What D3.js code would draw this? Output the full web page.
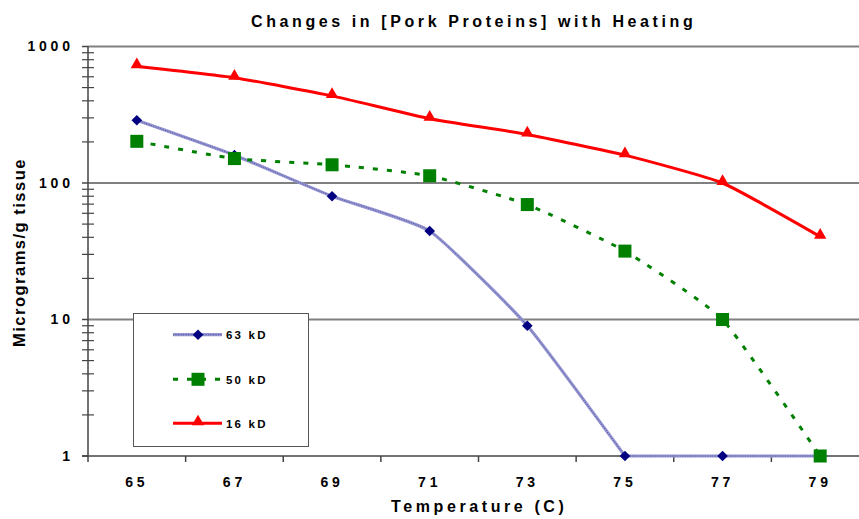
<!DOCTYPE html>
<html>
<head>
<meta charset="utf-8">
<script src="https://cdn.jsdelivr.net/npm/d3@7"></script>
<style>
  html, body { margin: 0; padding: 0; background: #fff; }
  svg { display: block; font-family: "Liberation Sans", Arial, Helvetica, sans-serif; }
</style>
</head>
<body>
<svg id="chart" width="859" height="519"></svg>
<script>
// Temperature categories (C)
const temperatures = ["65", "67", "69", "71", "73", "75", "77", "79"];

// Protein concentration (micrograms / g tissue) per band
const kd63 = [288, 160, 80, 44.5, 9, 1, 1, 1];
const kd50 = [202, 151, 136, 113, 69.5, 31.7, 10, 1];
const kd16 = [717, 591, 435, 296, 227, 160, 100, 40.5];

const seriesNames = ["63 kD", "50 kD", "16 kD"];
const yTickValues = [1, 10, 100, 1000];

(function draw() {
const svg = d3.select("#chart");
const left = 88, right = 869, plotTop = 46.5, bottom = 456;
const tickLS = 3.8;

const x = d3.scaleBand().domain(temperatures).range([left, right]);
const y = d3.scaleLog().domain([1, 1000]).range([bottom, plotTop]);

// Title
svg.append("text")
  .attr("x", 251).attr("y", 27)
  .attr("font-size", 16).attr("font-weight", "bold")
  .attr("letter-spacing", 3.6)
  .text("Changes in [Pork Proteins] with Heating");

// Horizontal gridlines at each decade
svg.append("g").selectAll("line")
  .data(yTickValues.slice(1))
  .join("line")
  .attr("x1", left).attr("x2", right)
  .attr("y1", d => y(d)).attr("y2", d => y(d))
  .attr("stroke", "#808080").attr("stroke-width", 2);

// Y axis: major and minor ticks on a log scale
const minor = [];
for (let dec = 1; dec < 1000; dec *= 10) for (let k = 2; k <= 9; k++) minor.push(dec * k);

const yAxis = svg.append("g");
yAxis.append("line")
  .attr("x1", left).attr("x2", left)
  .attr("y1", plotTop).attr("y2", bottom + 6)
  .attr("stroke", "#444").attr("stroke-width", 1.5);
yAxis.selectAll("line.minor")
  .data(minor).join("line").attr("class", "minor")
  .attr("x1", left - 6).attr("x2", left + 6)
  .attr("y1", d => y(d)).attr("y2", d => y(d))
  .attr("stroke", "#444").attr("stroke-width", 1.2);
yAxis.selectAll("line.major")
  .data(yTickValues).join("line").attr("class", "major")
  .attr("x1", left - 6).attr("x2", left)
  .attr("y1", d => y(d)).attr("y2", d => y(d))
  .attr("stroke", "#444").attr("stroke-width", 1.5);
yAxis.selectAll("text")
  .data(yTickValues).join("text")
  .attr("x", 70 + tickLS).attr("y", d => y(d) + 4.5)
  .attr("text-anchor", "end")
  .attr("font-size", 14).attr("font-weight", "bold")
  .attr("letter-spacing", tickLS)
  .text(d => d);

// X axis baseline and ticks at band edges
const xAxis = svg.append("g");
xAxis.append("line")
  .attr("x1", left - 6).attr("x2", right)
  .attr("y1", bottom).attr("y2", bottom)
  .attr("stroke", "#444").attr("stroke-width", 1.5);
xAxis.selectAll("line.tick")
  .data(temperatures)
  .join("line").attr("class", "tick")
  .attr("x1", d => x(d) + x.step())
  .attr("x2", d => x(d) + x.step())
  .attr("y1", bottom).attr("y2", bottom + 6)
  .attr("stroke", "#444").attr("stroke-width", 1.5);
xAxis.selectAll("text")
  .data(temperatures).join("text")
  .attr("x", d => x(d) + x.bandwidth() / 2)
  .attr("y", 487.3)
  .attr("text-anchor", "middle")
  .attr("font-size", 14).attr("font-weight", "bold")
  .attr("letter-spacing", tickLS)
  .text(d => d);

// Axis titles
svg.append("text")
  .attr("x", 391).attr("y", 511.7)
  .attr("font-size", 16).attr("font-weight", "bold")
  .attr("letter-spacing", 3.6)
  .text("Temperature (C)");
svg.append("text")
  .attr("transform", "translate(25,347) rotate(-90)")
  .attr("font-size", 16.5).attr("font-weight", "bold")
  .attr("letter-spacing", 1.5)
  .text("Micrograms/g tissue");

const px = i => x(temperatures[i]) + x.bandwidth() / 2;

const smooth = d3.line()
  .x(d => px(d.i))
  .y(d => y(d.v))
  .curve(d3.curveCardinal.tension(0.55));
const straight = d3.line()
  .x(d => px(d.i))
  .y(d => y(d.v));
const pts = arr => arr.map((v, i) => ({ v, i }));

const diamond = d3.symbol(d3.symbolDiamond2, 72);
const triangle = d3.symbol(d3.symbolTriangle, 66);

// 63 kD: textured lavender line with navy diamonds; the floor segment stays straight
const p63 = pts(kd63);
const d63 = smooth(p63.slice(0, 6)) + straight(p63.slice(5));
const g63 = svg.append("g");
g63.append("path").attr("d", d63)
  .attr("fill", "none").attr("stroke", "#9494d0").attr("stroke-width", 3.2);
g63.append("path").attr("d", d63)
  .attr("fill", "none").attr("stroke", "#5050a4").attr("stroke-width", 1)
  .attr("stroke-dasharray", "1,1.5");
g63.selectAll("path.m").data(kd63).join("path").attr("class", "m")
  .attr("d", diamond)
  .attr("transform", (d, i) => `translate(${px(i)},${y(d)})`)
  .attr("fill", "#000080");

// 50 kD: green dashed line with squares
const g50 = svg.append("g");
g50.append("path").attr("d", smooth(pts(kd50)))
  .attr("fill", "none").attr("stroke", "#008000").attr("stroke-width", 3)
  .attr("stroke-dasharray", "5,9");
g50.selectAll("rect").data(kd50).join("rect")
  .attr("x", (d, i) => px(i) - 6.5).attr("y", d => y(d) - 6.5)
  .attr("width", 13).attr("height", 13)
  .attr("fill", "#008000");

// 16 kD: red line with triangles
const g16 = svg.append("g");
g16.append("path").attr("d", smooth(pts(kd16)))
  .attr("fill", "none").attr("stroke", "#ff0000").attr("stroke-width", 3);
g16.selectAll("path.m").data(kd16).join("path").attr("class", "m")
  .attr("d", triangle)
  .attr("transform", (d, i) => `translate(${px(i)},${y(d) - 1.5})`)
  .attr("fill", "#ff0000");

// Legend
const legend = svg.append("g");
legend.append("rect")
  .attr("x", 133.5).attr("y", 313.5).attr("width", 175).attr("height", 133)
  .attr("fill", "#fff").attr("stroke", "#555").attr("stroke-width", 1);
const legendY = [334.7, 379.3, 423.3];
const lx1 = 173, lx2 = 222, lmx = 198;

legend.append("line").attr("x1", lx1).attr("x2", lx2)
  .attr("y1", legendY[0]).attr("y2", legendY[0])
  .attr("stroke", "#9494d0").attr("stroke-width", 3.2);
legend.append("line").attr("x1", lx1).attr("x2", lx2)
  .attr("y1", legendY[0]).attr("y2", legendY[0])
  .attr("stroke", "#5050a4").attr("stroke-width", 1).attr("stroke-dasharray", "1,1.5");
legend.append("path").attr("d", diamond)
  .attr("transform", `translate(${lmx},${legendY[0]})`).attr("fill", "#000080");

legend.append("line").attr("x1", lx1).attr("x2", lx2)
  .attr("y1", legendY[1]).attr("y2", legendY[1])
  .attr("stroke", "#008000").attr("stroke-width", 3).attr("stroke-dasharray", "5,9");
legend.append("rect").attr("x", lmx - 6.5).attr("y", legendY[1] - 6.5)
  .attr("width", 13).attr("height", 13).attr("fill", "#008000");

legend.append("line").attr("x1", lx1).attr("x2", lx2)
  .attr("y1", legendY[2]).attr("y2", legendY[2])
  .attr("stroke", "#ff0000").attr("stroke-width", 3);
legend.append("path").attr("d", triangle)
  .attr("transform", `translate(${lmx},${legendY[2] - 1.5})`).attr("fill", "#ff0000");

legend.selectAll("text").data(seriesNames).join("text")
  .attr("x", 226).attr("y", (d, i) => legendY[i] + 4.3)
  .attr("font-size", 11.5).attr("font-weight", "bold")
  .attr("letter-spacing", 2.2)
  .text(d => d);
})();
</script>
</body>
</html>
